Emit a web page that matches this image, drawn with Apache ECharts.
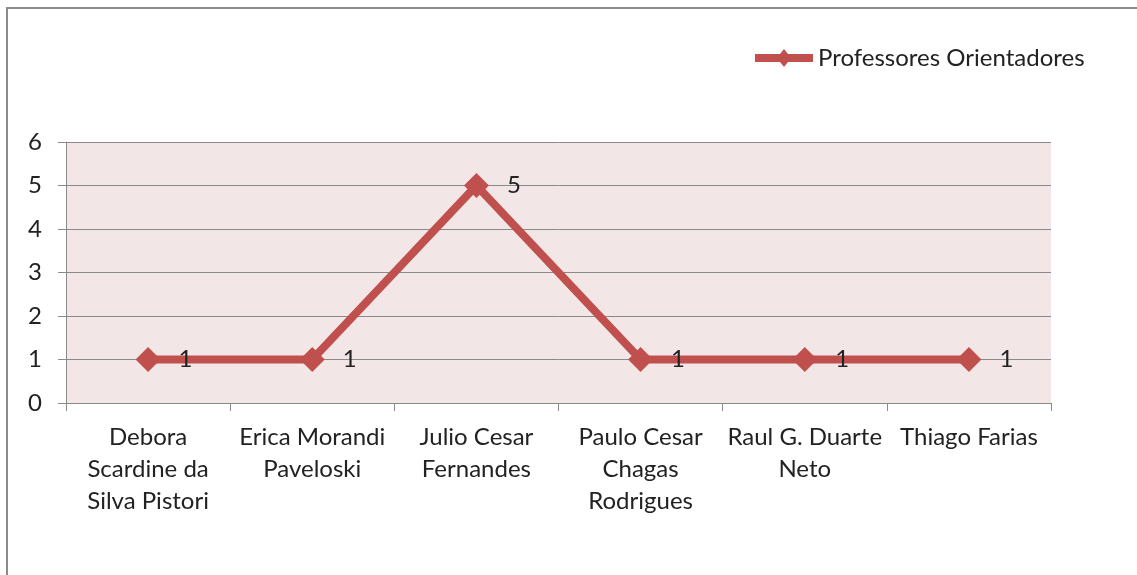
<!DOCTYPE html>
<html>
<head>
<meta charset="utf-8">
<script src="https://cdn.jsdelivr.net/npm/echarts@6/dist/echarts.min.js"></script>
<style>
  html, body { margin: 0; padding: 0; background: #fff; }
  #chart { width: 1137px; height: 575px; }
</style>
</head>
<body>
<div id="chart"></div>
<script>
// dados do gráfico
var professores = [
  'Debora\nScardine da\nSilva Pistori',
  'Erica Morandi\nPaveloski',
  'Julio Cesar\nFernandes',
  'Paulo Cesar\nChagas\nRodrigues',
  'Raul G. Duarte\nNeto',
  'Thiago Farias'
];
var orientacoes = [1, 1, 5, 1, 1, 1];
var nomeSerie = 'Professores Orientadores';

var chart = echarts.init(document.getElementById('chart'), null, { renderer: 'canvas' });
var fonte = 'Lato, "Open Sans", sans-serif';
var vermelho = '#C0504D';

var option = {
  animation: false,
  textStyle: { fontFamily: fonte },
  graphic: [
    // moldura (só topo e esquerda aparecem na imagem)
    {
      type: 'polyline',
      shape: { points: [[7, 600], [7, 8], [1140, 8]] },
      style: { fill: null, stroke: '#8c8c8c', lineWidth: 2 },
      silent: true
    }
  ],
  legend: {
    top: 46,
    left: 755,
    padding: 0,
    itemWidth: 58,
    itemHeight: 22,
    itemGap: 4,
    textStyle: { fontSize: 24, color: '#222', fontFamily: fonte },
    data: [{ name: nomeSerie, icon: 'path://M0,7 L25,7 L29,2 L33,7 L58,7 L58,15 L33,15 L29,20 L25,15 L0,15 Z' }]
  },
  grid: {
    left: 66,
    right: 1137 - 1051,
    top: 142,
    bottom: 575 - 403,
    show: true,
    backgroundColor: '#F2E6E6',
    borderWidth: 0
  },
  xAxis: {
    type: 'category',
    data: professores,
    boundaryGap: true,
    axisLine: { show: true, lineStyle: { color: '#8a8a8a', width: 1 } },
    axisTick: { show: true, length: 8, lineStyle: { color: '#8a8a8a' } },
    axisLabel: {
      interval: 0,
      margin: 18,
      fontSize: 24,
      lineHeight: 32,
      color: '#222',
      fontFamily: fonte
    }
  },
  yAxis: {
    type: 'value',
    min: 0,
    max: 6,
    interval: 1,
    axisLine: { show: true, lineStyle: { color: '#8a8a8a', width: 1 } },
    axisTick: { show: true, length: 8, lineStyle: { color: '#8a8a8a' } },
    axisLabel: { margin: 24, fontSize: 24, color: '#222', fontFamily: fonte },
    splitLine: { show: true, lineStyle: { color: '#8a8a8a', width: 1 } }
  },
  series: [
    {
      name: nomeSerie,
      type: 'line',
      data: orientacoes,
      symbol: 'diamond',
      symbolSize: [25, 25],
      lineStyle: { color: vermelho, width: 8 },
      itemStyle: { color: vermelho },
      label: {
        show: true,
        position: 'right',
        distance: 18,
        fontSize: 24,
        color: '#222',
        fontFamily: fonte
      }
    }
  ]
};

chart.setOption(option);
</script>
</body>
</html>
